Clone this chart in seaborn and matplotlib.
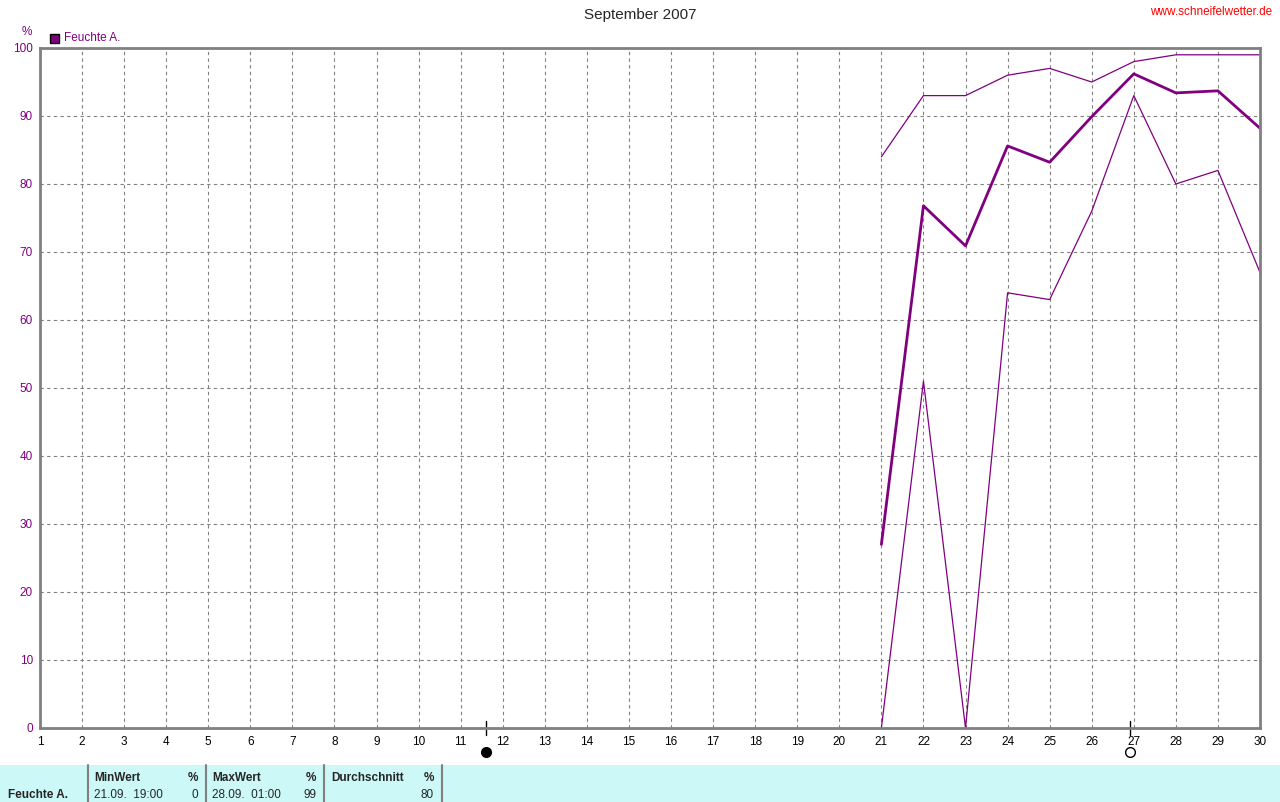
import numpy as np
import pandas as pd
import matplotlib
matplotlib.use("Agg")
import matplotlib.pyplot as plt
import seaborn as sns

# Daily humidity values (only 21.-30. September recorded)
days = [21, 22, 23, 24, 25, 26, 27, 28, 29, 30]
hum_max = [84, 93, 93, 96, 97, 95, 98, 99, 99, 99]
hum_mean = [27, 76.8, 70.9, 85.6, 83.2, 89.9, 96.2, 93.4, 93.7, 88.2]
hum_min = [0, 51, 0, 64, 63, 76, 93, 80, 82, 67]

x_ticks = list(range(1, 31))
y_ticks = list(range(0, 101, 10))

# moon phases (day as fraction): new moon, full moon
moon_days = [11.61, 26.91]
moon_filled = [True, False]

# summary table
summary_headers = ["MinWert", "MaxWert", "Durchschnitt"]
summary_times = ["21.09.  19:00", "28.09.  01:00", ""]
summary_values = ["0", "99", "80"]

PURPLE = "#800080"
GRAY = "#808080"

sns.set_style("white")
plt.rcParams['font.family'] = ['Liberation Sans', 'DejaVu Sans']

df = pd.DataFrame({
    "day": days * 3,
    "value": hum_max + hum_mean + hum_min,
    "series": ["max"] * len(days) + ["mean"] * len(days) + ["min"] * len(days),
})

fig = plt.figure(figsize=(12.8, 8.02), dpi=100)
W, H = 1280, 802
ax = fig.add_axes([40 / W, 1 - 728 / H, 1220 / W, 680 / H])

sns.lineplot(data=df, x="day", y="value", hue="series", size="series",
             palette={"max": PURPLE, "mean": PURPLE, "min": PURPLE},
             sizes={"max": 0.9, "mean": 2.0, "min": 0.9},
             legend=False, ax=ax, estimator=None)

ax.set_xlim(1, 30)
ax.set_ylim(0, 100)
ax.set_xticks(x_ticks)
ax.set_yticks(y_ticks)
ax.set_xticklabels([str(d) for d in x_ticks], fontsize=8.5, color="black")
ax.set_yticklabels([str(v) for v in y_ticks], fontsize=8.5, color=PURPLE)
ax.tick_params(axis="x", length=0, pad=6)
ax.tick_params(axis="y", length=4, width=1, color=GRAY, pad=1)
ax.set_xlabel("")
ax.set_ylabel("")
ax.grid(True, color=GRAY, linestyle=(0, (3, 3)), linewidth=0.8)
for sp in ax.spines.values():
    sp.set_color(GRAY)
    sp.set_linewidth(2)
    sp.set_visible(True)

# moon phase marks
for d, filled in zip(moon_days, moon_filled):
    ax.plot([d, d], [-1.0, 1.0], color="black", lw=1, clip_on=False)
    ax.plot(d, -3.6, marker="o", markersize=7,
            markerfacecolor="black" if filled else "white",
            markeredgecolor="black", markeredgewidth=1, clip_on=False)

# titles and labels
fig.text(0.5, 1 - 15 / H, "September 2007", ha="center", va="center", fontsize=11)
fig.text(1272 / W, 1 - 12 / H, "www.schneifelwetter.de", ha="right", va="center",
         fontsize=8.5, color="red")
fig.text(27 / W, 1 - 32 / H, "%", ha="center", va="center", fontsize=8.5, color=PURPLE)
fig.patches.append(plt.Rectangle((50 / W, 1 - 43 / H), 9 / W, 9 / H, transform=fig.transFigure,
                                 facecolor=PURPLE, edgecolor="black", lw=1))
fig.text(64 / W, 1 - 38 / H, "Feuchte A.", ha="left", va="center", fontsize=8.5, color=PURPLE)

# summary table at the bottom
fig.patches.append(plt.Rectangle((0, 0), 1, 37 / H, transform=fig.transFigure,
                                 facecolor="#CCF8F7", edgecolor="none"))
for xs in [88, 206, 324, 442]:
    fig.add_artist(plt.Line2D([xs / W, xs / W], [0, 37 / H], color=GRAY, lw=1.5))
fig.text(8 / W, 1 - 795 / H, "Feuchte A.", ha="left", va="center", fontsize=8.5, weight="bold")
col_left = [94, 212, 331]
col_right = [198, 316, 434]
for hdr, tm, val, xl, xr in zip(summary_headers, summary_times, summary_values, col_left, col_right):
    fig.text(xl / W, 1 - 778 / H, hdr, ha="left", va="center", fontsize=8.5, weight="bold")
    fig.text(xr / W, 1 - 778 / H, "%", ha="right", va="center", fontsize=8.5, weight="bold")
    fig.text(xl / W, 1 - 795 / H, tm, ha="left", va="center", fontsize=8.5)
    fig.text(xr / W, 1 - 795 / H, val, ha="right", va="center", fontsize=8.5)

fig.savefig("out.png", dpi=100)
